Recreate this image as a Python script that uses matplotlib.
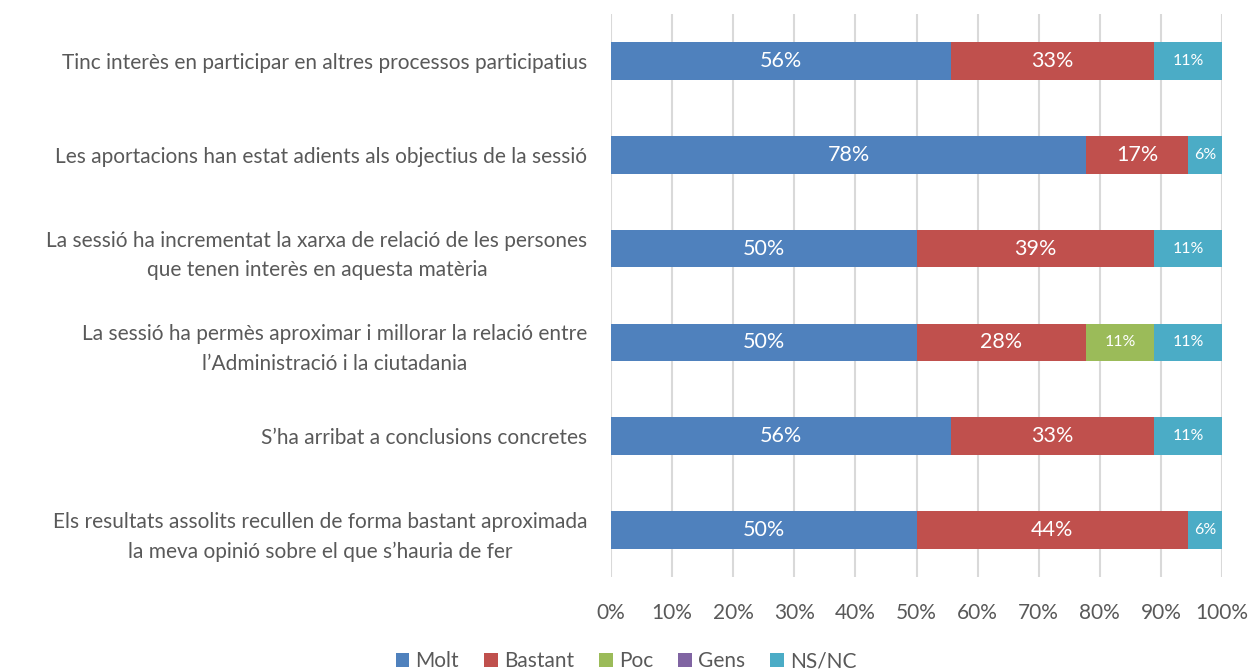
import matplotlib
matplotlib.use("Agg")
import matplotlib.pyplot as plt
import numpy as np

plt.rcParams['font.family'] = ['Lato', 'DejaVu Sans']

categories = [
    "Tinc interès en participar en altres processos participatius",
    "Les aportacions han estat adients als objectius de la sessió",
    "La sessió ha incrementat la xarxa de relació de les persones\nque tenen interès en aquesta matèria",
    "La sessió ha permès aproximar i millorar la relació entre\nl’Administració i la ciutadania",
    "S’ha arribat a conclusions concretes",
    "Els resultats assolits recullen de forma bastant aproximada\nla meva opinió sobre el que s’hauria de fer",
]
series_names = ["Molt", "Bastant", "Poc", "Gens", "NS/NC"]
molt = [55.6, 77.8, 50.0, 50.0, 55.6, 50.0]
bastant = [33.3, 16.7, 38.9, 27.8, 33.3, 44.4]
poc = [0.0, 0.0, 0.0, 11.1, 0.0, 0.0]
gens = [0.0, 0.0, 0.0, 0.0, 0.0, 0.0]
nsnc = [11.1, 5.6, 11.1, 11.1, 11.1, 5.6]
xticks = [0, 10, 20, 30, 40, 50, 60, 70, 80, 90, 100]

colors = ["#4F81BD", "#C0504D", "#9BBB59", "#8064A2", "#4BACC6"]
label_sizes = [15.5, 15.5, 11.5, 11.5, 11.5]

fig = plt.figure(figsize=(12.52, 6.70), dpi=100)
ax = fig.add_axes([611/1252, 1 - 577/670, (1222-611)/1252, (577-14)/670])

y = np.arange(len(categories))
left = np.zeros(len(categories))
for name, vals, c, fs in zip(series_names, [molt, bastant, poc, gens, nsnc], colors, label_sizes):
    vals = np.array(vals)
    ax.barh(y, vals, left=left, height=0.4, color=c, label=name, zorder=3)
    for yi, l, v in zip(y, left, vals):
        if v > 0:
            ax.text(l + v / 2, yi, f"{v:.0f}%", ha="center", va="center",
                    color="white", fontsize=fs, zorder=4)
    left += vals

ax.set_xlim(0, 100)
ax.set_ylim(len(categories) - 0.5, -0.5)
ax.set_xticks(xticks)
ax.set_xticklabels([f"{t}%" for t in xticks], fontsize=15, color="#595959")
ax.set_yticks(y)
ax.set_yticklabels(categories, fontsize=15, color="#595959", ha="right")
ax.tick_params(axis="both", length=0)
ax.tick_params(axis="x", pad=19)
ax.tick_params(axis="y", pad=17)
for lab in ax.get_yticklabels():
    lab.set_multialignment("center")
    lab.set_linespacing(1.6)
ax.grid(axis="x", color="#D9D9D9", linewidth=1.5, zorder=0)
for s in ax.spines.values():
    s.set_visible(False)

handles, labels = ax.get_legend_handles_labels()
fig.legend(handles, labels, loc="center", bbox_to_anchor=(0.5, 1 - 661/670), ncol=5,
           frameon=False, fontsize=15, handlelength=0.65, handleheight=0.65,
           columnspacing=1.2, handletextpad=0.3, labelcolor="#595959")

fig.savefig("out.png", dpi=100)
